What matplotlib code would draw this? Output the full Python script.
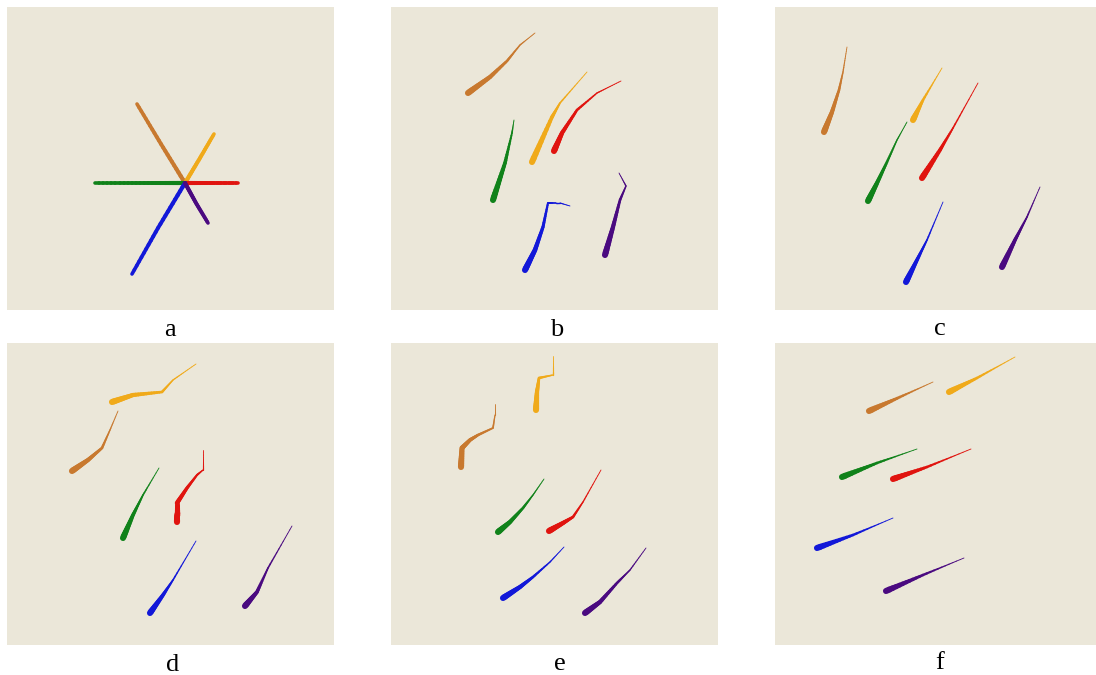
import numpy as np
import matplotlib
matplotlib.use("Agg")
import matplotlib.pyplot as plt
from matplotlib.collections import LineCollection


# trajectories, pixel coords of the arena (x, y), thick end (start) first
# order of robots: brown, orange, red, green, blue, purple
colors = ["#c8792f", "#f0aa1a", "#e0140f", "#10821a", "#1218d8", "#4a0a80"]

traj_a = [
    [(185, 183), (161, 144), (137, 104)],
    [(185, 183), (200, 158), (214, 134)],
    [(185, 183), (212, 183), (238, 183)],
    [(185, 183), (140, 183), (95, 183)],
    [(185, 183), (158, 228), (132, 274)],
    [(185, 183), (196, 203), (208, 223)],
]
traj_b = [
    [(468, 93), (490, 77), (507, 61), (520, 45), (535, 33)],
    [(532, 162), (552, 117), (560, 103), (587, 72)],
    [(554, 151), (562, 133), (577, 110), (597, 93), (621, 81)],
    [(493, 200), (505, 163), (512, 133), (514, 120)],
    [(525, 270), (535, 250), (543, 227), (548, 203), (560, 203), (570, 206)],
    [(605, 255), (613, 227), (620, 200), (626, 186), (619, 173)],
]
traj_c = [
    [(824, 132), (832, 112), (839, 90), (843, 72), (847, 47)],
    [(913, 120), (923, 100), (942, 68)],
    [(922, 178), (940, 150), (953, 128), (978, 83)],
    [(868, 201), (877, 183), (887, 162), (897, 140), (907, 122)],
    [(906, 282), (917, 260), (927, 240), (943, 202)],
    [(1002, 267), (1015, 240), (1027, 217), (1040, 187)],
]
traj_d = [
    [(72, 471), (88, 460), (102, 448), (110, 430), (118, 411)],
    [(112, 402), (133, 395), (162, 392), (173, 380), (196, 364)],
    [(177, 522), (177, 503), (187, 488), (197, 475), (203, 470), (203, 450)],
    [(123, 538), (133, 515), (143, 495), (159, 468)],
    [(150, 613), (163, 595), (173, 580), (196, 541)],
    [(245, 606), (257, 592), (268, 568), (292, 526)],
]
traj_e = [
    [(461, 467), (462, 448), (470, 440), (478, 435), (493, 428), (495, 415), (495, 404)],
    [(536, 410), (537, 392), (539, 378), (553, 375), (553, 356)],
    [(549, 531), (563, 523), (573, 517), (583, 502), (601, 470)],
    [(498, 532), (510, 522), (523, 508), (533, 495), (544, 479)],
    [(503, 598), (520, 587), (533, 577), (550, 562), (564, 547)],
    [(585, 613), (600, 602), (617, 583), (630, 570), (646, 548)],
]
traj_f = [
    [(869, 411), (900, 397), (933, 382)],
    [(949, 392), (977, 378), (1015, 357)],
    [(893, 479), (927, 467), (971, 449)],
    [(842, 477), (877, 463), (917, 449)],
    [(817, 548), (853, 535), (893, 518)],
    [(886, 591), (923, 575), (964, 558)],
]

panels = [traj_a, traj_b, traj_c, traj_d, traj_e, traj_f]
labels = ["a", "b", "c", "d", "e", "f"]
# arena windows in pixels: left, right, top, bottom
windows = [
    (7, 334, 7, 310), (391, 718, 7, 310), (775, 1096, 7, 310),
    (7, 334, 343, 645), (391, 718, 343, 645), (775, 1096, 343, 645),
]
label_pos = [(170, 336), (557, 336), (940, 335), (173, 671), (560, 670), (940, 669)]

W, H = 1096, 675
bg = "#ebe7d9"


def tapered(ax, pts, color, w0, w1, power):
    # split the polyline into short pieces so the width can shrink smoothly
    pts = np.array(pts, dtype=float)
    segs = []
    for p, q in zip(pts[:-1], pts[1:]):
        t = np.linspace(0, 1, 12)
        xs = p[0] + (q[0] - p[0]) * t
        ys = p[1] + (q[1] - p[1]) * t
        for i in range(len(t) - 1):
            segs.append([(xs[i], ys[i]), (xs[i + 1], ys[i + 1])])
    n = len(segs)
    s = np.linspace(0, 1, n)
    widths = w1 + (w0 - w1) * (1 - s) ** power
    lc = LineCollection(segs, colors=color, linewidths=widths, capstyle="round")
    ax.add_collection(lc)


fig = plt.figure(figsize=(W / 100, H / 100), dpi=100)
fig.patch.set_facecolor("white")

for k in range(6):
    l, r, t, b = windows[k]
    ax = fig.add_axes([l / W, 1 - b / H, (r - l) / W, (b - t) / H])
    ax.set_facecolor(bg)
    ax.set_xlim(l, r)
    ax.set_ylim(b, t)
    for sp in ax.spines.values():
        sp.set_visible(False)
    ax.set_xticks([])
    ax.set_yticks([])
    for j, pts in enumerate(panels[k]):
        if k == 0:
            tapered(ax, pts, colors[j], 3.0, 2.6, 1.0)
        else:
            tapered(ax, pts, colors[j], 4.4, 0.6, 1.6)
    fig.text(label_pos[k][0] / W, 1 - label_pos[k][1] / H, labels[k],
             ha="center", va="baseline", fontsize=19, family="Liberation Serif")

fig.savefig("out.png", dpi=100, facecolor="white")
